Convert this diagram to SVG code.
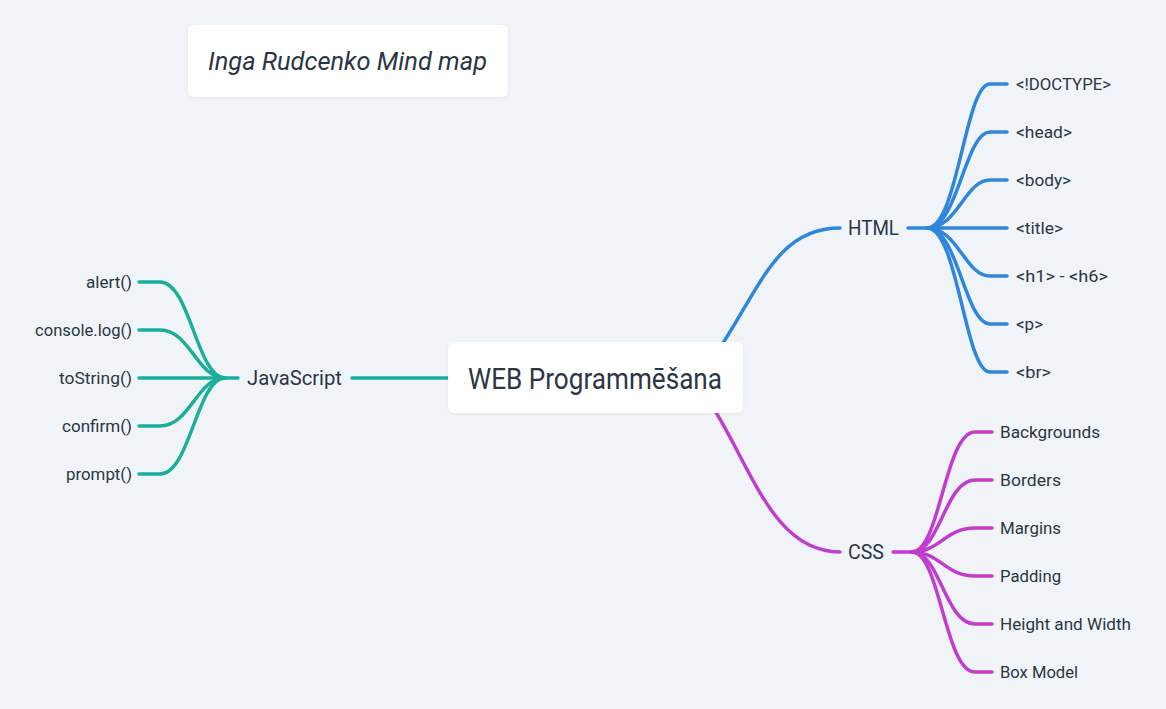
<svg xmlns="http://www.w3.org/2000/svg" width="1166" height="709" viewBox="0 0 1166 709">
<style>
.bg{fill:#f0f4f8}
.box{fill:#ffffff}
.t{font-family:Roboto,"Noto Sans",sans-serif;fill:#2a3645}
.leaf{font-size:17px}
.main{font-size:21px}
.c{fill:none;stroke-width:3.5;stroke-linecap:round}
.html{stroke:#2e87da}
.css{stroke:#c03dcf}
.js{stroke:#1bae9b}
</style>
<defs>
<filter id="sh" x="-10%" y="-10%" width="120%" height="140%">
<feDropShadow dx="0" dy="1" stdDeviation="1.5" flood-color="#000" flood-opacity="0.06"/>
</filter>
</defs>
<rect class="bg" x="0" y="0" width="1166" height="709"/>
<g id="connectors">
<path class="c html" d="M712 360 C760 290 775 228 840 228"/>
<path class="c css" d="M705 395 C750 460 770 552 840 552"/>
<path class="c js" d="M352 378 H470"/>
<path class="c html" d="M908 228 H927"/>
<path class="c html" d="M927 228 C958 228 965 84 990 84 H1007"/>
<path class="c html" d="M927 228 C958 228 965 132 990 132 H1007"/>
<path class="c html" d="M927 228 C958 228 965 180 990 180 H1007"/>
<path class="c html" d="M927 228 H1007"/>
<path class="c html" d="M927 228 C958 228 965 276 990 276 H1007"/>
<path class="c html" d="M927 228 C958 228 965 324 990 324 H1007"/>
<path class="c html" d="M927 228 C958 228 965 372 990 372 H1007"/>
<path class="c css" d="M893 552 H912"/>
<path class="c css" d="M912 552 C940 552 945 432 975 432 H992"/>
<path class="c css" d="M912 552 C940 552 945 480 975 480 H992"/>
<path class="c css" d="M912 552 C940 552 945 528 975 528 H992"/>
<path class="c css" d="M912 552 C940 552 945 576 975 576 H992"/>
<path class="c css" d="M912 552 C940 552 945 624 975 624 H992"/>
<path class="c css" d="M912 552 C940 552 945 672 975 672 H992"/>
<path class="c js" d="M238 378 H225"/>
<path class="c js" d="M225 378 C197 378 190 282 160 282 H139"/>
<path class="c js" d="M225 378 C197 378 190 330 160 330 H139"/>
<path class="c js" d="M225 378 H139"/>
<path class="c js" d="M225 378 C197 378 190 426 160 426 H139"/>
<path class="c js" d="M225 378 C197 378 190 474 160 474 H139"/>
</g>
<g id="title">
<rect class="box" filter="url(#sh)" x="188" y="25" width="320" height="72" rx="6"/>
<text class="t" x="208" y="70" font-size="26" font-style="italic" textLength="279" lengthAdjust="spacingAndGlyphs">Inga Rudcenko Mind map</text>
</g>
<g id="center">
<rect class="box" filter="url(#sh)" x="448" y="342" width="295" height="71" rx="6"/>
<text class="t" x="468" y="389" font-size="29" textLength="254" lengthAdjust="spacingAndGlyphs">WEB Programmēšana</text>
</g>
<g id="html"><text class="t main" x="848" y="235" textLength="51" lengthAdjust="spacingAndGlyphs">HTML</text></g>
<g id="css"><text class="t main" x="848" y="559" textLength="36" lengthAdjust="spacingAndGlyphs">CSS</text></g>
<g id="javascript"><text class="t main" x="247" y="385" textLength="95" lengthAdjust="spacingAndGlyphs">JavaScript</text></g>
<g id="doctype"><text class="t leaf" x="1016" y="90" textLength="95" lengthAdjust="spacingAndGlyphs">&lt;!DOCTYPE&gt;</text></g>
<g id="head"><text class="t leaf" x="1016" y="138" textLength="56" lengthAdjust="spacingAndGlyphs">&lt;head&gt;</text></g>
<g id="body"><text class="t leaf" x="1016" y="186" textLength="55" lengthAdjust="spacingAndGlyphs">&lt;body&gt;</text></g>
<g id="titletag"><text class="t leaf" x="1016" y="234" textLength="47" lengthAdjust="spacingAndGlyphs">&lt;title&gt;</text></g>
<g id="h1h6"><text class="t leaf" x="1016" y="282" textLength="92" lengthAdjust="spacingAndGlyphs">&lt;h1&gt; - &lt;h6&gt;</text></g>
<g id="p"><text class="t leaf" x="1016" y="330" textLength="27" lengthAdjust="spacingAndGlyphs">&lt;p&gt;</text></g>
<g id="br"><text class="t leaf" x="1016" y="378" textLength="35" lengthAdjust="spacingAndGlyphs">&lt;br&gt;</text></g>
<g id="backgrounds"><text class="t leaf" x="1000" y="438" textLength="100" lengthAdjust="spacingAndGlyphs">Backgrounds</text></g>
<g id="borders"><text class="t leaf" x="1000" y="486" textLength="61" lengthAdjust="spacingAndGlyphs">Borders</text></g>
<g id="margins"><text class="t leaf" x="1000" y="534" textLength="61" lengthAdjust="spacingAndGlyphs">Margins</text></g>
<g id="padding"><text class="t leaf" x="1000" y="582" textLength="61" lengthAdjust="spacingAndGlyphs">Padding</text></g>
<g id="heightwidth"><text class="t leaf" x="1000" y="630" textLength="131" lengthAdjust="spacingAndGlyphs">Height and Width</text></g>
<g id="boxmodel"><text class="t leaf" x="1000" y="678" textLength="78" lengthAdjust="spacingAndGlyphs">Box Model</text></g>
<g id="alert"><text class="t leaf" x="86" y="288" textLength="46" lengthAdjust="spacingAndGlyphs">alert()</text></g>
<g id="consolelog"><text class="t leaf" x="35" y="336" textLength="97" lengthAdjust="spacingAndGlyphs">console.log()</text></g>
<g id="tostring"><text class="t leaf" x="59" y="384" textLength="73" lengthAdjust="spacingAndGlyphs">toString()</text></g>
<g id="confirm"><text class="t leaf" x="62" y="432" textLength="70" lengthAdjust="spacingAndGlyphs">confirm()</text></g>
<g id="prompt"><text class="t leaf" x="66" y="480" textLength="66" lengthAdjust="spacingAndGlyphs">prompt()</text></g>
</svg>
